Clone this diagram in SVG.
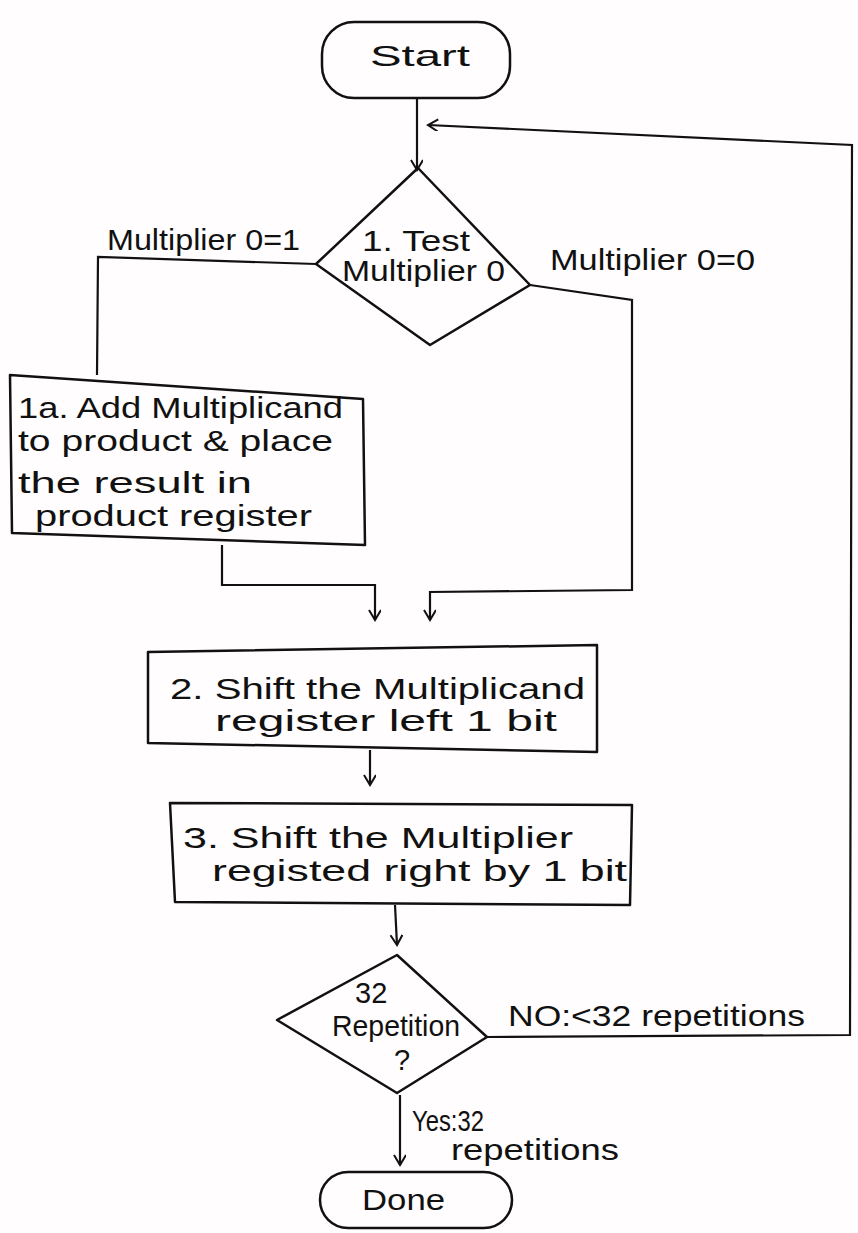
<svg xmlns="http://www.w3.org/2000/svg" width="858" height="1233" viewBox="0 0 858 1233">
<defs>
<marker id="arr" markerWidth="14" markerHeight="14" refX="11" refY="6" orient="auto" markerUnits="userSpaceOnUse">
<path d="M1,0 L11,6 L1,12" fill="none" stroke="#111" stroke-width="2"/>
</marker>
<style>
.s{fill:none;stroke:#111;stroke-width:2.5;stroke-linejoin:round}
.c{fill:none;stroke:#111;stroke-width:2.2}
.t{font-family:"Liberation Sans",Arial,sans-serif;fill:#111;font-size:29px}
.m{text-anchor:middle}
</style>
</defs>
<rect width="858" height="1233" fill="#fffdfd"/>
<g id="connectors">
<path class="c" d="M417,98 L417,170" marker-end="url(#arr)"/>
<path class="c" d="M487,1037 L850,1035 L852,145 L428,125" marker-end="url(#arr)"/>
<path class="c" d="M316,264 L98,257 L97,375"/>
<path class="c" d="M530,285 L632,300 L632,590 L430,592 L430,620" marker-end="url(#arr)"/>
<path class="c" d="M222,545 L222,585 L375,585 L375,620" marker-end="url(#arr)"/>
<path class="c" d="M370,750 L370,785" marker-end="url(#arr)"/>
<path class="c" d="M395,905 L397,945" marker-end="url(#arr)"/>
<path class="c" d="M400,1095 L400,1165" marker-end="url(#arr)"/>
</g>
<g id="start">
<rect class="s" x="322" y="22" width="188" height="76" rx="32"/>
<text class="t" x="370" y="66" font-size="32" textLength="100" lengthAdjust="spacingAndGlyphs">Start</text>
</g>
<g id="test">
<polygon class="s" points="418,168 530,285 430,345 316,264"/>
<text class="t" x="362" y="251" font-size="27" textLength="108" lengthAdjust="spacingAndGlyphs">1. Test</text>
<text class="t" x="342" y="281" font-size="27" textLength="163" lengthAdjust="spacingAndGlyphs">Multiplier 0</text>
</g>
<g id="labels1">
<text class="t" x="107" y="250" textLength="193" lengthAdjust="spacingAndGlyphs">Multiplier 0=1</text>
<text class="t" x="550" y="270" textLength="205" lengthAdjust="spacingAndGlyphs">Multiplier 0=0</text>
</g>
<g id="add">
<polygon class="s" points="10,375 363,399 365,545 12,533"/>
<text class="t" x="18" y="418" textLength="325" lengthAdjust="spacingAndGlyphs">1a. Add Multiplicand</text>
<text class="t" x="18" y="451" textLength="315" lengthAdjust="spacingAndGlyphs">to product &amp; place</text>
<text class="t" x="18" y="493" textLength="234" lengthAdjust="spacingAndGlyphs">the result in</text>
<text class="t" x="35" y="526" textLength="277" lengthAdjust="spacingAndGlyphs">product register</text>
</g>
<g id="shift1">
<polygon class="s" points="148,652 597,645 597,752 148,743"/>
<text class="t" x="170" y="699" textLength="415" lengthAdjust="spacingAndGlyphs">2. Shift the Multiplicand</text>
<text class="t" x="215" y="731" textLength="342" lengthAdjust="spacingAndGlyphs">register left 1 bit</text>
</g>
<g id="shift2">
<polygon class="s" points="170,803 632,805 630,905 175,902"/>
<text class="t" x="183" y="848" textLength="390" lengthAdjust="spacingAndGlyphs">3. Shift the Multiplier</text>
<text class="t" x="212" y="881" textLength="415" lengthAdjust="spacingAndGlyphs">registed right by 1 bit</text>
</g>
<g id="repeat">
<polygon class="s" points="397,955 487,1037 397,1093 277,1020"/>
<text class="t" x="355" y="1003" font-size="26">32</text>
<text class="t" x="332" y="1036" font-size="26" textLength="128" lengthAdjust="spacingAndGlyphs">Repetition</text>
<text class="t m" x="402" y="1070" font-size="26">?</text>
</g>
<g id="labels2">
<text class="t" x="508" y="1026" font-size="26" textLength="297" lengthAdjust="spacingAndGlyphs">NO:&lt;32 repetitions</text>
<text class="t" x="412" y="1131" font-size="23" textLength="72" lengthAdjust="spacingAndGlyphs">Yes:32</text>
<text class="t" x="451" y="1160" font-size="23" textLength="168" lengthAdjust="spacingAndGlyphs">repetitions</text>
</g>
<g id="done">
<rect class="s" x="320" y="1172" width="192" height="56" rx="28"/>
<text class="t" x="362" y="1210" font-size="28" textLength="83" lengthAdjust="spacingAndGlyphs">Done</text>
</g>
</svg>
